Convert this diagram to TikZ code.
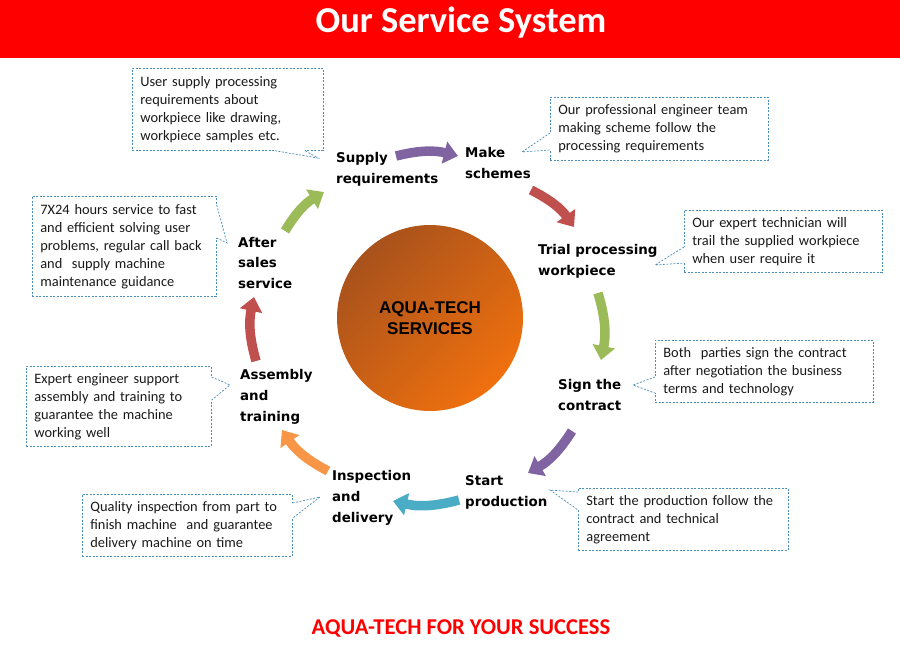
\documentclass[tikz,border=0pt]{standalone}
\usepackage{fontspec}
\setmainfont{Carlito}
\newfontfamily\stagefont{DejaVu Sans}
\newfontfamily\hubfont{Liberation Sans}
\usepackage{tikz}
\usetikzlibrary{arrows.meta}
\usepackage{xcolor}

\definecolor{barred}{HTML}{FF0000}
\definecolor{notecol}{HTML}{4A8DB8}
\definecolor{flowpurple}{HTML}{8064A2}
\definecolor{flowred}{HTML}{C0504D}
\definecolor{flowgreen}{HTML}{9BBB59}
\definecolor{flowblue}{HTML}{4BACC6}
\definecolor{floworange}{HTML}{F79646}
\definecolor{hubdark}{HTML}{A8521C}
\definecolor{hublight}{HTML}{F0700E}

\tikzset{
  stage/.style={anchor=west, inner sep=0pt, align=left,
    font=\stagefont\bfseries\fontsize{13.4}{21}\selectfont},
  note/.style={draw=notecol, dash pattern=on 2pt off 1.5pt, line width=0.7pt,
    anchor=north west, inner xsep=8pt, inner ysep=0pt, align=left,
    text=black!90, font=\fontsize{14.4}{18}\selectfont},
  tail/.style={draw=notecol, dash pattern=on 2pt off 1.5pt, line width=0.7pt},
  flow/.style={line width=9.5pt, bend left=14,
    -{Triangle[width=22pt,length=14pt]}},
}

\begin{document}
\begin{tikzpicture}[x=1pt, y=-1pt]
    \useasboundingbox (0,0) rectangle (900,672);
    \fill[barred] (0,0) rectangle (900,58);
    \node[text=white, font=\bfseries\fontsize{36.5}{36}\selectfont] (title) at (461,23) {Our Service System};

    % centre
    \node[circle, minimum size=186pt, inner sep=0pt, top color=hubdark,
        bottom color=hublight, shading angle=45,
        font=\hubfont\bfseries\fontsize{17}{21}\selectfont, align=center] (hub) at (430,318)
        {AQUA-TECH\\SERVICES};

    % stages
    \node[stage] (sup) at (336,169) {Supply\\requirements};
    \node[stage] (mak) at (465,163) {Make\\schemes};
    \node[stage] (tri) at (538,261) {Trial processing\\workpiece};
    \node[stage] (sig) at (558,395) {Sign the\\contract};
    \node[stage] (sta) at (465,492) {Start\\production};
    \node[stage] (ins) at (332,498) {Inspection\\and\\delivery};
    \node[stage] (ass) at (240,397) {Assembly\\and\\training};
    \node[stage] (aft) at (238,263) {After\\sales\\service};

    % arrow ends
    \coordinate (a1) at (396,156); \coordinate (b1) at (458,156);
    \coordinate (a2) at (531,190); \coordinate (b2) at (574,227);
    \coordinate (a3) at (598,293); \coordinate (b3) at (601,360);
    \coordinate (a4) at (572,431); \coordinate (b4) at (528,473);
    \coordinate (a5) at (459,500); \coordinate (b5) at (393,501);
    \coordinate (a6) at (328,471); \coordinate (b6) at (282,430);
    \coordinate (a7) at (256,361); \coordinate (b7) at (254,297);
    \coordinate (a8) at (285,231); \coordinate (b8) at (324,192);
    \draw[flow, flowpurple] (a1) to (b1);
    \draw[flow, flowred] (a2) to (b2);
    \draw[flow, flowgreen] (a3) to (b3);
    \draw[flow, flowpurple] (a4) to (b4);
    \draw[flow, flowblue] (a5) to (b5);
    \draw[flow, floworange] (a6) to (b6);
    \draw[flow, flowred] (a7) to (b7);
    \draw[flow, flowgreen] (a8) to (b8);

    % notes
    \node[note, minimum width=191pt, minimum height=82pt, text width=175pt] (usr) at (132,68)
        {User supply processing\\requirements about\\workpiece like drawing,\\workpiece samples etc.};
    \node[note, minimum width=218pt, minimum height=63pt, text width=202pt] (eng) at (550,97)
        {Our professional engineer team\\making scheme follow the\\processing requirements};
    \node[note, minimum width=198pt, minimum height=62pt, text width=182pt] (tec) at (684,210)
        {Our expert technician will\\trail the supplied workpiece\\when user require it};
    \node[note, minimum width=218pt, minimum height=62pt, text width=202pt] (con) at (655,340)
        {Both~~parties sign the contract\\after negotiation the business\\terms and technology};
    \node[note, minimum width=210pt, minimum height=62pt, text width=194pt] (pro) at (578,488)
        {Start the production follow the\\contract and technical\\agreement};
    \node[note, minimum width=210pt, minimum height=62pt, text width=194pt] (qua) at (82,494)
        {Quality inspection from part to\\finish machine~~and guarantee\\delivery machine on time};
    \node[note, minimum width=185pt, minimum height=80pt, text width=169pt] (exp) at (26,366)
        {Expert engineer support\\assembly and training to\\guarantee the machine\\working well};
    \node[note, minimum width=184pt, minimum height=100pt, text width=168pt] (hrs) at (32,196)
        {7X24 hours service to fast\\and efficient solving user\\problems, regular call back\\and~~supply machine\\maintenance guidance};

    % note tails
    \coordinate (t1) at (318,158);
    \coordinate (t2) at (522,152);
    \coordinate (t3) at (655,265);
    \coordinate (t4) at (633,385);
    \coordinate (t5) at (550,490);
    \coordinate (t6) at (320,497);
    \coordinate (t7) at (230,385);
    \coordinate (t8) at (227,243);
    \foreach \tip/\pa/\pb in {t1/{([xshift=143pt]usr.south west)}/{([xshift=173pt]usr.south west)},
        t2/{([yshift=-36pt]eng.north west)}/{([yshift=-53pt]eng.north west)},
        t3/{([yshift=-37pt]tec.north west)}/{([yshift=-53pt]tec.north west)},
        t4/{([yshift=-37pt]con.north west)}/{([yshift=-53pt]con.north west)},
        t5/{([yshift=-4pt]pro.north west)}/{([yshift=-22pt]pro.north west)},
        t6/{([yshift=-9pt]qua.north east)}/{([yshift=-24pt]qua.north east)},
        t7/{([yshift=-11pt]exp.north east)}/{([yshift=-34pt]exp.north east)},
        t8/{([yshift=-9pt]hrs.north east)}/{([yshift=-42pt]hrs.north east)}} {
      \draw[white, line width=1.6pt] \pa -- \pb;
      \draw[tail] \pa -- (\tip) -- \pb;
    }

    \node[text=barred, font=\bfseries\fontsize{22.6}{22}\selectfont] (slogan) at (461,629)
        {AQUA-TECH FOR YOUR SUCCESS};
\end{tikzpicture}
\end{document}
